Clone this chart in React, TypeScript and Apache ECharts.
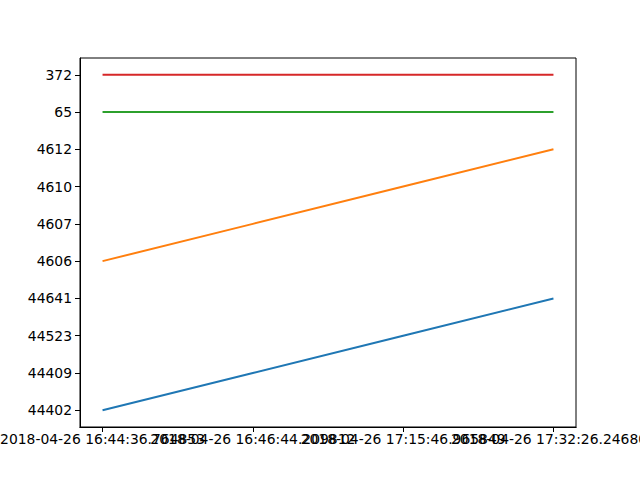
import React, { useEffect, useRef } from "react";
import * as echarts from "echarts";

const xLabels: string[] = [
  "2018-04-26 16:44:36.764853",
  "2018-04-26 16:46:44.209812",
  "2018-04-26 17:15:46.965849",
  "2018-04-26 17:32:26.246800",
];

const blueValues: string[] = ["44402", "44409", "44523", "44641"];
const orangeValues: string[] = ["4606", "4607", "4610", "4612"];
const greenValues: string[] = ["65", "65", "65", "65"];
const redValues: string[] = ["372", "372", "372", "372"];

const seriesList: { values: string[]; color: string }[] = [
  { values: blueValues, color: "#1f77b4" },
  { values: orangeValues, color: "#ff7f0e" },
  { values: greenValues, color: "#2ca02c" },
  { values: redValues, color: "#d62728" },
];

// categorical y axis: categories in order of first appearance
const yCategories: string[] = [];
seriesList.forEach((s) =>
  s.values.forEach((v) => {
    if (yCategories.indexOf(v) < 0) yCategories.push(v);
  })
);

export default function App() {
  const ref = useRef<HTMLDivElement>(null);
  useEffect(() => {
    if (!ref.current) return;
    const chart = echarts.init(ref.current, null, { renderer: "svg" });
    const nX = xLabels.length;
    const nY = yCategories.length;
    const xMargin = (nX - 1) * 0.05;
    const yMargin = (nY - 1) * 0.05;
    const font = "DejaVu Sans";
    const idx = xLabels.map((_, i) => i);
    const makeX = (vals: number[]) => ({
      type: "value",
      position: "bottom",
      offset: 0,
      min: -xMargin,
      max: nX - 1 + xMargin,
      splitLine: { show: false },
      axisLine: { show: true, onZero: false, lineStyle: { color: "#000", width: 1 } },
      axisTick: {
        show: true,
        inside: false,
        length: 5,
        lineStyle: { color: "#000", width: 1 },
        customValues: vals,
      },
      axisLabel: {
        show: true,
        color: "#000",
        fontFamily: font,
        fontSize: 13.9,
        margin: 5,
        hideOverlap: false,
        showMinLabel: true,
        showMaxLabel: true,
        customValues: vals,
        formatter: (v: number) => xLabels[Math.round(v)] ?? "",
      },
    });
    chart.setOption({
      animation: false,
      backgroundColor: "#ffffff",
      grid: {
        left: 80,
        right: 64,
        top: 58,
        bottom: 53,
        show: true,
        borderColor: "#000000",
        borderWidth: 1,
        backgroundColor: "transparent",
        outerBoundsMode: "none",
      },
      xAxis: [
        makeX(idx.filter((i) => i % 2 === 0)),
        makeX(idx.filter((i) => i % 2 === 1)),
      ],
      yAxis: {
        type: "value",
        min: -yMargin,
        max: nY - 1 + yMargin,
        splitLine: { show: false },
        axisLine: { show: true, onZero: false, lineStyle: { color: "#000", width: 1 } },
        axisTick: {
          show: true,
          length: 5,
          lineStyle: { color: "#000", width: 1 },
          customValues: yCategories.map((_, i) => i),
        },
        axisLabel: {
          show: true,
          color: "#000",
          fontFamily: font,
          fontSize: 13.9,
          margin: 8,
          hideOverlap: false,
          customValues: yCategories.map((_, i) => i),
          formatter: (v: number) => yCategories[Math.round(v)] ?? "",
        },
      },
      series: seriesList.map((s) => ({
        type: "line",
        xAxisIndex: 0,
        data: s.values.map((v, i) => [i, yCategories.indexOf(v)]),
        showSymbol: false,
        symbol: "none",
        lineStyle: { color: s.color, width: 2 },
        itemStyle: { color: s.color },
      })),
    });
    return () => chart.dispose();
  }, []);
  return (
    <div
      ref={ref}
      style={{ position: "fixed", left: 0, top: 0, width: 640, height: 480 }}
    />
  );
}
